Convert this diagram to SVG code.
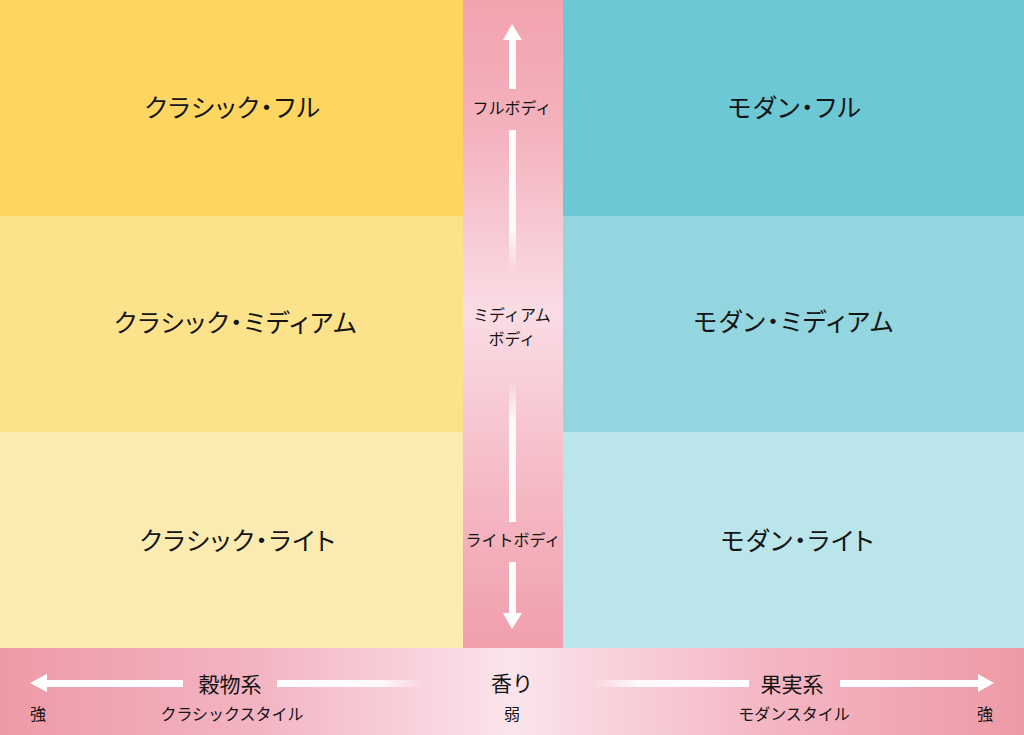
<svg xmlns="http://www.w3.org/2000/svg" width="1024" height="735" viewBox="0 0 1024 735">
<defs>
<linearGradient id="gV" x1="0" y1="0" x2="0" y2="1">
<stop offset="0" stop-color="#F2A3AE"/>
<stop offset="0.2" stop-color="#F4B2BD"/>
<stop offset="0.48" stop-color="#FADCE5"/>
<stop offset="0.75" stop-color="#F5BAC5"/>
<stop offset="1" stop-color="#F09FAB"/>
</linearGradient>
<linearGradient id="gH" x1="0" y1="0" x2="1" y2="0">
<stop offset="0" stop-color="#EE9AA6"/>
<stop offset="0.25" stop-color="#F3B4C2"/>
<stop offset="0.5" stop-color="#FBE4EC"/>
<stop offset="0.75" stop-color="#F4B6C3"/>
<stop offset="1" stop-color="#EE9AA6"/>
</linearGradient>
<linearGradient id="fadeDown" x1="0" y1="0" x2="0" y2="1">
<stop offset="0" stop-color="#fff" stop-opacity="1"/>
<stop offset="0.7" stop-color="#fff" stop-opacity="0.9"/>
<stop offset="1" stop-color="#fff" stop-opacity="0"/>
</linearGradient>
<linearGradient id="fadeUp" x1="0" y1="1" x2="0" y2="0">
<stop offset="0" stop-color="#fff" stop-opacity="1"/>
<stop offset="0.7" stop-color="#fff" stop-opacity="0.9"/>
<stop offset="1" stop-color="#fff" stop-opacity="0"/>
</linearGradient>
<linearGradient id="fadeRight" x1="0" y1="0" x2="1" y2="0">
<stop offset="0" stop-color="#fff" stop-opacity="1"/>
<stop offset="0.7" stop-color="#fff" stop-opacity="0.9"/>
<stop offset="1" stop-color="#fff" stop-opacity="0"/>
</linearGradient>
<linearGradient id="fadeLeft" x1="1" y1="0" x2="0" y2="0">
<stop offset="0" stop-color="#fff" stop-opacity="1"/>
<stop offset="0.7" stop-color="#fff" stop-opacity="0.9"/>
<stop offset="1" stop-color="#fff" stop-opacity="0"/>
</linearGradient>
</defs>
<style>
text{font-family:"Noto Sans CJK JP","Noto Sans",sans-serif;fill:#141414;text-anchor:middle;dominant-baseline:central;font-weight:400}
.big{font-size:25px;letter-spacing:1.5px;font-feature-settings:"palt"}
.mid{font-size:16px}
.axis{font-size:21px}
.sub{font-size:16px}
.w{fill:#fff}
</style>
<rect x="0" y="0" width="1024" height="735" fill="#fff"/>
<g id="classic-full"><rect x="0" y="0" width="463" height="216" fill="#FCD660"/><text class="big" x="233" y="106">クラシック・フル</text></g>
<g id="classic-medium"><rect x="0" y="216" width="463" height="216" fill="#FCE28B"/><text class="big" x="236" y="321">クラシック・ミディアム</text></g>
<g id="classic-light"><rect x="0" y="432" width="463" height="216" fill="#FCEBB0"/><text class="big" x="238" y="539">クラシック・ライト</text></g>
<g id="modern-full"><rect x="563" y="0" width="461" height="216" fill="#6CC8D4"/><text class="big" x="795" y="106">モダン・フル</text></g>
<g id="modern-medium"><rect x="563" y="216" width="461" height="216" fill="#93D6E0"/><text class="big" x="794" y="320">モダン・ミディアム</text></g>
<g id="modern-light"><rect x="563" y="432" width="461" height="216" fill="#B9E5EB"/><text class="big" x="798" y="539">モダン・ライト</text></g>
<g id="body-axis"><rect x="463" y="0" width="100" height="648" fill="url(#gV)"/>
<text class="mid" x="512" y="107">フルボディ</text>
<text class="mid" x="512" y="314">ミディアム</text>
<text class="mid" x="512" y="338">ボディ</text>
<text class="mid" x="513" y="539">ライトボディ</text>
</g>
<g id="aroma-axis"><rect x="0" y="648" width="1024" height="87" fill="url(#gH)"/>
<text class="axis" x="230" y="683">穀物系</text>
<text class="axis" x="512" y="682">香り</text>
<text class="axis" x="792" y="683">果実系</text>
<text class="sub" x="38" y="713">強</text>
<text class="sub" x="232" y="713">クラシックスタイル</text>
<text class="sub" x="512" y="713">弱</text>
<text class="sub" x="794" y="713">モダンスタイル</text>
<text class="sub" x="985" y="713">強</text>
</g>
<g id="connectors">
<polygon class="w" points="512,24 522,40 503,40"/>
<rect class="w" x="509" y="39" width="7" height="50"/>
<rect x="509" y="130" width="7" height="142" fill="url(#fadeDown)"/>
<rect x="509" y="378" width="7" height="144" fill="url(#fadeUp)"/>
<rect class="w" x="509" y="562" width="7" height="52"/>
<polygon class="w" points="503,613 522,613 512,629"/>
<polygon class="w" points="30,683 47,674 47,692"/>
<rect class="w" x="46" y="680" width="137" height="7"/>
<rect x="277" y="680" width="148" height="7" fill="url(#fadeRight)"/>
<rect x="590" y="680" width="159" height="7" fill="url(#fadeLeft)"/>
<rect class="w" x="840" y="680" width="139" height="7"/>
<polygon class="w" points="978,674 994,683 978,692"/>
</g>
</svg>
